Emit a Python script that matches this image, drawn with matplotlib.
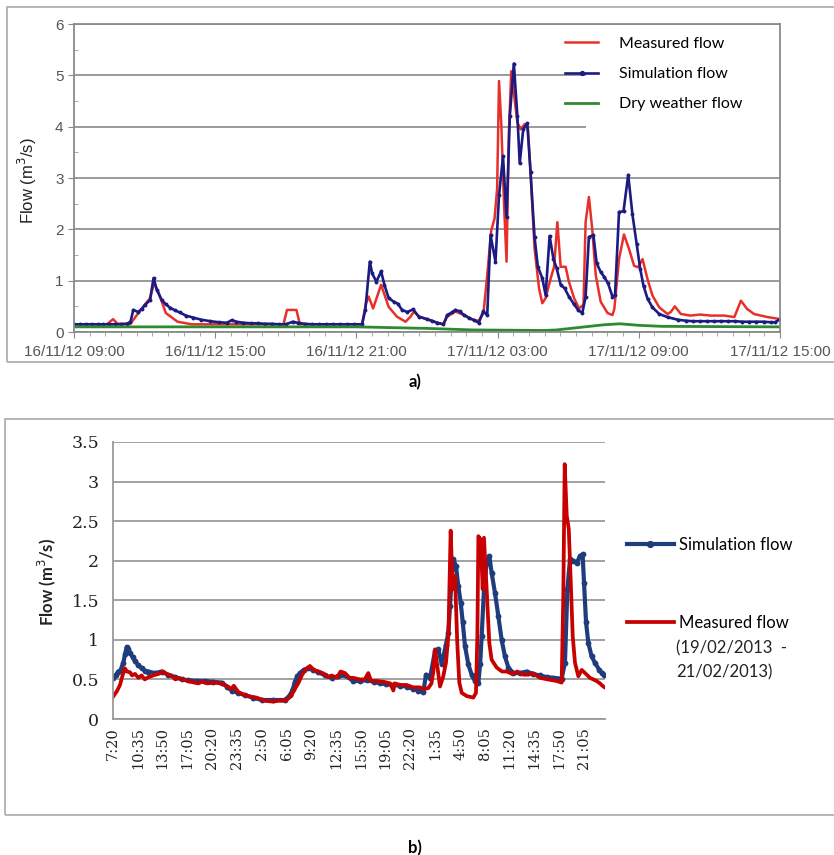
import numpy as np
import matplotlib.pyplot as plt
from matplotlib.lines import Line2D
from matplotlib.patches import Rectangle

plt.rcParams['font.family'] = ['Liberation Sans', 'DejaVu Sans']

# ---- a) event 16/11/12 - 17/11/12, time in hours after 16/11/12 09:00
sim_a_t = [0.0, 0.25, 0.5, 0.75, 1.0, 1.25, 1.5, 1.75, 2.0, 2.25, 2.4, 2.52, 2.73, 2.88, 3.02,
           3.23, 3.38, 3.52, 3.73, 3.9, 4.09, 4.3, 4.5, 4.75, 5.07, 5.4, 5.8, 6.15, 6.5, 6.7,
           6.9, 7.2, 7.5, 7.8, 8.1, 8.4, 8.7, 9.0, 9.3, 9.5, 9.8, 10.1, 10.4, 10.7, 11.0,
           11.3, 11.6, 11.9, 12.24, 12.38, 12.57, 12.67, 12.85, 13.05, 13.19, 13.37, 13.59,
           13.76, 13.94, 14.16, 14.41, 14.65, 15.0, 15.2, 15.43, 15.7, 15.86, 16.05, 16.21,
           16.4, 16.57, 16.8, 17.0, 17.2, 17.39, 17.56, 17.7, 17.91, 18.06, 18.23, 18.38,
           18.52, 18.69, 18.84, 18.94, 19.09, 19.26, 19.4, 19.57, 19.71, 19.9, 20.04, 20.21,
           20.37, 20.51, 20.68, 20.85, 21.03, 21.25, 21.42, 21.6, 21.74, 21.88, 22.07, 22.21,
           22.38, 22.52, 22.69, 22.88, 22.99, 23.16, 23.35, 23.55, 23.73, 23.91, 24.06, 24.2,
           24.37, 24.58, 24.87, 25.22, 25.65, 26.0, 26.3, 26.6, 26.9, 27.2, 27.5, 27.8, 28.1,
           28.4, 28.7, 29.0, 29.3, 29.6, 29.8, 30.0]
sim_a_q = [0.15, 0.15, 0.15, 0.15, 0.15, 0.15, 0.15, 0.15, 0.15, 0.16, 0.2, 0.43, 0.39, 0.45, 0.53,
           0.62, 1.05, 0.82, 0.62, 0.54, 0.47, 0.42, 0.38, 0.32, 0.28, 0.24, 0.21, 0.19, 0.18, 0.23,
           0.2, 0.18, 0.17, 0.17, 0.16, 0.16, 0.15, 0.15, 0.2, 0.18, 0.16, 0.15, 0.15, 0.15, 0.15,
           0.15, 0.15, 0.15, 0.15, 0.43, 1.37, 1.14, 0.98, 1.18, 0.92, 0.66, 0.59,
           0.55, 0.43, 0.39, 0.44, 0.3, 0.25, 0.22, 0.18, 0.15, 0.33, 0.38, 0.43,
           0.4, 0.33, 0.27, 0.23, 0.18, 0.40, 0.33, 1.89, 1.37, 2.66, 3.42, 2.24,
           4.21, 5.23, 4.21, 3.29, 3.95, 4.07, 3.11, 1.85, 1.27, 1.05, 0.72, 1.87,
           1.43, 1.24, 0.92, 0.85, 0.69, 0.54, 0.43, 0.37, 0.69, 1.85, 1.89, 1.34,
           1.17, 1.08, 0.95, 0.69, 0.72, 2.34, 2.35, 3.06, 2.29, 1.71, 1.23, 0.9,
           0.65, 0.48, 0.35, 0.29, 0.24, 0.22, 0.21, 0.21, 0.21, 0.21, 0.21, 0.21, 0.21,
           0.2, 0.2, 0.2, 0.2, 0.19, 0.19, 0.25]
meas_a_t = [0.0, 1.4, 1.66, 1.85, 2.4, 2.67, 2.94, 3.23, 3.4, 3.6, 3.9, 4.4, 5.0, 8.9, 9.05, 9.45,
            9.6, 12.24, 12.4, 12.52, 12.71, 13.05, 13.37, 13.72, 14.09, 14.3, 14.45, 14.65, 15.0,
            15.43, 15.7, 15.86, 16.21, 16.57, 17.0, 17.2, 17.4, 17.56, 17.73, 17.87, 17.98, 18.06,
            18.16, 18.27, 18.38, 18.48, 18.58, 18.69, 18.84, 18.98, 19.15, 19.29, 19.4, 19.57,
            19.76, 19.9, 20.04, 20.26, 20.4, 20.54, 20.68, 20.89, 21.03, 21.25, 21.46, 21.65,
            21.74, 21.88, 22.02, 22.17, 22.38, 22.67, 22.88, 22.96, 23.16, 23.37, 23.59, 23.8,
            23.97, 24.16, 24.37, 24.58, 24.87, 25.22, 25.36, 25.53, 25.79, 26.2, 26.6, 27.06,
            27.63, 28.06, 28.34, 28.6, 28.9, 29.48, 29.9, 30.0]
meas_a_q = [0.15, 0.15, 0.25, 0.16, 0.16, 0.33, 0.49, 0.66, 0.95, 0.76, 0.37, 0.2, 0.15, 0.15, 0.43, 0.43,
            0.15, 0.15, 0.55, 0.69, 0.46, 0.92, 0.49, 0.3, 0.2, 0.3, 0.4, 0.3, 0.25,
            0.18, 0.15, 0.3, 0.4, 0.33, 0.23, 0.22, 0.37, 1.11, 1.98, 2.21, 2.79, 4.89,
            4.02, 2.53, 1.37, 3.89, 5.08, 4.66, 4.08, 3.95, 4.05, 3.95, 3.11, 1.63,
            0.85, 0.56, 0.66, 1.05, 1.27, 2.14, 1.27, 1.27, 0.98, 0.66, 0.46, 0.53,
            2.14, 2.63, 2.01, 1.11, 0.59, 0.37, 0.33, 0.45, 1.42, 1.9, 1.61, 1.29,
            1.26, 1.42, 1.03, 0.71, 0.48, 0.35, 0.39, 0.5, 0.35, 0.32, 0.34, 0.32,
            0.32, 0.29, 0.61, 0.45, 0.35, 0.29, 0.26, 0.25]
dwf_t = [0.0, 6.0, 12.0, 15.0, 17.0, 20.0, 20.5, 21.5, 22.5, 23.2, 24.0, 25.0, 30.0]
dwf_q = [0.1, 0.1, 0.1, 0.07, 0.04, 0.03, 0.04, 0.09, 0.14, 0.16, 0.13, 0.11, 0.1]
xlabels_a = ['16/11/12 09:00', '16/11/12 15:00', '16/11/12 21:00',
             '17/11/12 03:00', '17/11/12 09:00', '17/11/12 15:00']

# ---- b) 19/02/2013 - 21/02/2013, time in minutes after 7:20
sim_b_t = [0, 20, 42, 60, 81, 95, 108, 120, 134, 155, 173, 200, 225, 250, 278, 330, 383, 430, 488,
           540, 592, 660, 723, 790, 854, 895, 933, 986, 1038, 1100, 1169, 1260, 1352, 1392, 1415,
           1431, 1450, 1470, 1500, 1536, 1575, 1615, 1670, 1720, 1770, 1825, 1890, 1940, 1995,
           2050, 2100, 2150, 2205, 2260, 2310, 2360, 2402, 2441, 2462, 2494, 2533, 2559, 2586,
           2619, 2638, 2651, 2665, 2677, 2698, 2716, 2735, 2751, 2769, 2795, 2821, 2848, 2874,
           2888, 2900, 2918, 2939, 2960, 2978, 3005, 3031, 3057, 3083, 3110, 3149, 3200, 3254,
           3300, 3359, 3410, 3464, 3529, 3555, 3574, 3595, 3621, 3647, 3673, 3694, 3705, 3721,
           3739, 3765, 3791, 3825, 3844, 3860]
sim_b_q = [0.52, 0.55, 0.6, 0.62, 0.71, 0.82, 0.91, 0.88, 0.84, 0.78, 0.73, 0.68, 0.64, 0.61, 0.6, 0.58,
           0.6, 0.56, 0.53, 0.5, 0.49, 0.48, 0.48, 0.47, 0.46, 0.41, 0.36, 0.33, 0.3, 0.27, 0.24,
           0.24, 0.24, 0.3, 0.38, 0.47, 0.54, 0.58, 0.62, 0.64, 0.62, 0.59, 0.55, 0.52, 0.54,
           0.55, 0.48, 0.48, 0.49, 0.47, 0.45, 0.44, 0.43, 0.42, 0.41, 0.38, 0.36, 0.34, 0.56,
           0.52, 0.86, 0.88, 0.69, 0.94, 1.09, 1.43, 1.8, 2.02, 1.93, 1.68, 1.47, 1.22, 0.92,
           0.69, 0.56, 0.48, 0.46, 0.7, 1.05, 1.64, 1.97, 2.06, 1.85, 1.59, 1.3, 1.0, 0.79,
           0.65, 0.58, 0.58, 0.6, 0.57, 0.55, 0.53, 0.52, 0.51, 0.71, 1.64, 2.02, 2.0, 1.97,
           2.06, 2.08, 1.72, 1.22, 0.96, 0.79, 0.71, 0.62, 0.58, 0.56]
meas_b_t = [0, 30, 55, 75, 94, 110, 134, 150, 173, 200, 225, 250, 278, 300, 330, 360, 395, 430, 461,
            490, 520, 566, 610, 671, 700, 740, 802, 840, 881, 930, 950, 986, 1040, 1091, 1130,
            1195, 1260, 1300, 1352, 1380, 1405, 1430, 1457, 1485, 1510, 1549, 1580, 1615, 1650,
            1690, 1720, 1760, 1790, 1825, 1860, 1890, 1940, 1980, 2008, 2030, 2080, 2130, 2180,
            2205, 2215, 2260, 2310, 2360, 2410, 2450, 2480, 2505, 2520, 2533, 2551, 2572, 2598,
            2619, 2638, 2656, 2672, 2690, 2708, 2724, 2743, 2782, 2834, 2855, 2866, 2874, 2892,
            2908, 2918, 2939, 2960, 2978, 3018, 3060, 3097, 3140, 3180, 3228, 3270, 3300, 3359,
            3420, 3490, 3529, 3542, 3553, 3569, 3585, 3600, 3616, 3634, 3660, 3687, 3713, 3752,
            3804, 3830, 3857, 3868]
meas_b_q = [0.28, 0.35, 0.43, 0.55, 0.64, 0.6, 0.59, 0.55, 0.57, 0.52, 0.55, 0.5, 0.53, 0.54, 0.56,
            0.57, 0.6, 0.56, 0.55, 0.5, 0.52, 0.49, 0.47, 0.45, 0.47, 0.45, 0.46, 0.45, 0.43,
            0.38, 0.42, 0.34, 0.3, 0.28, 0.27, 0.23, 0.22, 0.23, 0.23, 0.26, 0.3, 0.38, 0.45,
            0.55, 0.62, 0.67, 0.62, 0.6, 0.58, 0.53, 0.55, 0.52, 0.6, 0.58, 0.52, 0.52, 0.5,
            0.5, 0.58, 0.48, 0.48, 0.47, 0.45, 0.36, 0.45, 0.43, 0.43, 0.4, 0.4, 0.38, 0.39,
            0.45, 0.6, 0.88, 0.67, 0.41, 0.54, 0.71, 1.05, 2.38, 1.64, 1.81, 0.96, 0.46, 0.33,
            0.29, 0.27, 0.33, 1.05, 2.31, 2.27, 1.64, 2.29, 1.64, 0.96, 0.75, 0.65, 0.6, 0.6,
            0.57, 0.6, 0.56, 0.56, 0.58, 0.52, 0.5, 0.48, 0.46, 1.55, 3.22, 2.57, 2.4, 1.76,
            1.05, 0.71, 0.54, 0.62, 0.58, 0.52, 0.48, 0.45, 0.41, 0.4]
xlabels_b = ['7:20', '10:35', '13:50', '17:05', '20:20', '23:35', '2:50', '6:05', '9:20', '12:35',
             '15:50', '19:05', '22:20', '1:35', '4:50', '8:05', '11:20', '14:35', '17:50', '21:05']

W, H = 834, 855
fig = plt.figure(figsize=(W / 100, H / 100), dpi=100)

# outer frames of the two panels
fig.patches.append(Rectangle((7 / W, 1 - 362 / H), 1.0, 355 / H, transform=fig.transFigure,
                             fill=False, edgecolor='#b0b0b0', lw=1.3))
fig.patches.append(Rectangle((5 / W, 1 - 815 / H), 1.0, 396 / H, transform=fig.transFigure,
                             fill=False, edgecolor='#b0b0b0', lw=1.3))

# ---------------- panel a
ax1 = fig.add_axes([74 / W, 1 - 332 / H, 706 / W, 308 / H])
ax1.plot(meas_a_t, meas_a_q, color='#e8302b', lw=1.8, zorder=2)
ax1.plot(sim_a_t, sim_a_q, color='#1b1b82', lw=1.9, marker='o', ms=2.8, mew=0, zorder=2.1)
ax1.plot(dwf_t, dwf_q, color='#2e8a2e', lw=2.0, zorder=2.2)
ax1.set_xlim(0, 30)
ax1.set_ylim(0, 6)
ax1.set_xticks(np.arange(0, 31, 6))
ax1.set_xticklabels(xlabels_a)
ax1.set_xticks(np.arange(0, 30.01, 2 / 3), minor=True)
ax1.set_yticks(np.arange(0, 7, 1))
ax1.set_yticks(np.arange(0, 6.01, 0.5), minor=True)
ax1.tick_params(axis='both', which='major', labelsize=11, labelcolor='#555555',
                color='#888888', length=4)
ax1.tick_params(axis='x', which='minor', color='#999999', length=3)
ax1.tick_params(axis='y', which='minor', color='#999999', length=3, direction='in')
ax1.tick_params(axis='x', pad=5)
ax1.grid(axis='y', which='major', color='#9a9a9a', lw=1.4)
for sp in ax1.spines.values():
    sp.set_color('#8a8a8a')
    sp.set_linewidth(1.3)
fig.text(27 / W, 1 - 181 / H, 'Flow (m$^3$/s)', rotation=90, ha='center', va='center',
         fontsize=12, color='#222222')
# white box behind the legend text hides the grid there
ax1.add_patch(Rectangle((0.725, 0.656), 0.274, 0.34, transform=ax1.transAxes,
                        facecolor='white', edgecolor='none', zorder=1.6))
hs = [Line2D([], [], color='#e8302b', lw=1.8),
      Line2D([], [], color='#1b1b82', lw=1.9, marker='o', ms=2.8),
      Line2D([], [], color='#2e8a2e', lw=2.0)]
ax1.legend(hs, ['Measured flow', 'Simulation flow', 'Dry weather flow'],
           loc='upper left', bbox_to_anchor=(0.675, 1.005), frameon=False,
           prop={'family': 'Lato', 'size': 11.5}, handlelength=2.1, handletextpad=1.3,
           labelspacing=1.0, numpoints=1)
fig.text(415 / W, 1 - 382 / H, 'a)', ha='center', va='center', fontsize=12,
         fontweight='bold', family='Lato')

# ---------------- panel b
ax2 = fig.add_axes([113 / W, 1 - 719 / H, 492 / W, 277 / H])
ax2.plot(sim_b_t, sim_b_q, color='#1f3c7c', lw=3.0, marker='o', ms=4.2, mew=0, zorder=2)
ax2.plot(meas_b_t, meas_b_q, color='#c80000', lw=2.7, zorder=2.1)
ax2.set_xlim(0, 3870)
ax2.set_ylim(0, 3.5)
ax2.set_xticks(np.arange(len(xlabels_b)) * 195)
ax2.set_xticklabels(xlabels_b, rotation=90, family='DejaVu Serif', fontsize=10.5)
ax2.set_yticks(np.arange(0, 3.51, 0.5))
ax2.set_yticklabels(['0', '0.5', '1', '1.5', '2', '2.5', '3', '3.5'],
                    family='DejaVu Serif', fontsize=12.5)
ax2.tick_params(length=0, labelcolor='#222222')
ax2.tick_params(axis='y', pad=10)
ax2.tick_params(axis='x', pad=6)
ax2.grid(axis='y', color='#9a9a9a', lw=1.3)
ax2.set_axisbelow(True)
for s in ['top', 'right']:
    ax2.spines[s].set_visible(False)
for s in ['left', 'bottom']:
    ax2.spines[s].set_color('#9a9a9a')
    ax2.spines[s].set_linewidth(1.3)
fig.text(47 / W, 1 - 582 / H, 'Flow (m$^3$/s)', rotation=90, ha='center', va='center',
         fontsize=12, fontweight='bold', family='Lato', color='#222222')

fig.legend([Line2D([], [], color='#1f3c7c', lw=3.0, marker='o', ms=4.2)],
           ['Simulation flow'], loc='center left',
           bbox_to_anchor=(612 / W, 1 - 545 / H), frameon=False,
           prop={'family': 'Lato', 'size': 12}, handlelength=2.8,
           handletextpad=0.3, numpoints=1)
fig.legend([Line2D([], [], color='#c80000', lw=2.7)],
           ['Measured flow'], loc='center left',
           bbox_to_anchor=(612 / W, 1 - 623 / H), frameon=False,
           prop={'family': 'Lato', 'size': 12}, handlelength=2.8,
           handletextpad=0.3)
fig.text(676 / W, 1 - 648 / H, '(19/02/2013  -', ha='left', va='center',
         fontsize=12, family='Lato', color='#222222')
fig.text(676 / W, 1 - 672 / H, '21/02/2013)', ha='left', va='center',
         fontsize=12, family='Lato', color='#222222')
fig.text(415 / W, 1 - 848 / H, 'b)', ha='center', va='center', fontsize=12,
         fontweight='bold', family='Lato')

fig.savefig('out.png', dpi=100, facecolor='white')
